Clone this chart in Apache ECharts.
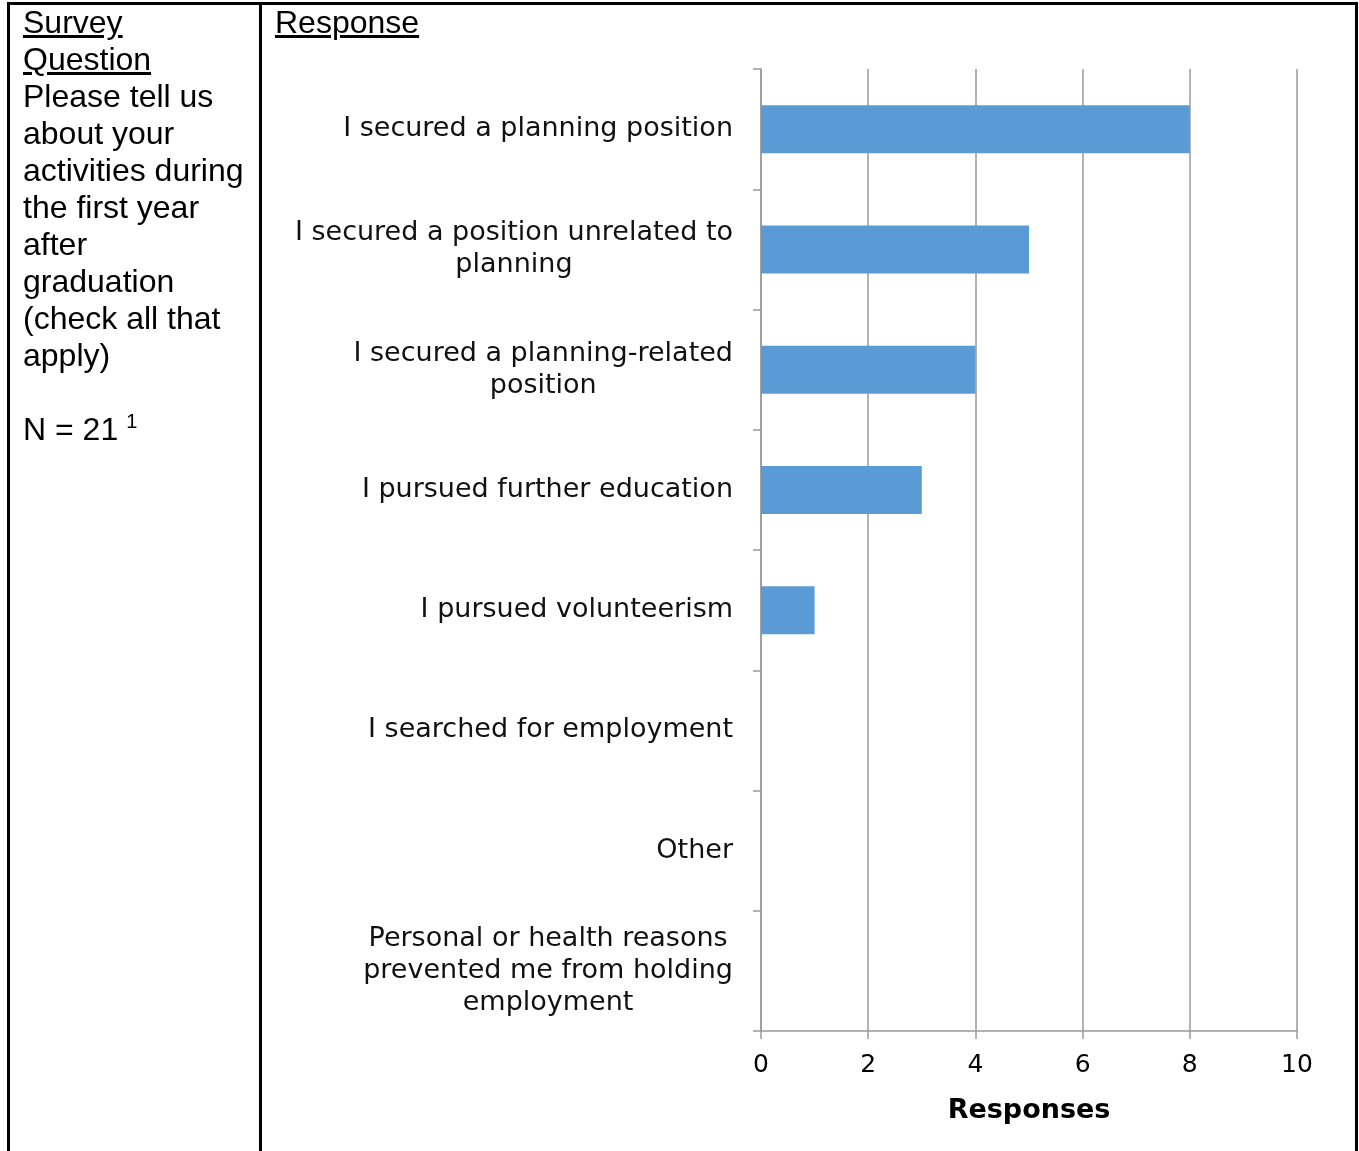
<!DOCTYPE html>
<html>
<head>
<meta charset="utf-8">
<script src="https://cdn.jsdelivr.net/npm/echarts@6/dist/echarts.min.js"></script>
<style>
  html, body { margin: 0; padding: 0; background: #fff; width: 1359px; height: 1151px; overflow: hidden; }
  #chart { position: absolute; left: 0; top: 0; width: 1359px; height: 1151px; }
  .line { position: absolute; background: #000; }
  .txt { position: absolute; font-family: "Liberation Sans", Arial, sans-serif; font-size: 32px; line-height: 37px; color: #000; white-space: nowrap; }
  .u { text-decoration: underline; }
  sup { font-size: 20px; vertical-align: 12px; line-height: 0; margin-left: 8px; }
</style>
</head>
<body>
<div id="chart"></div>
<div class="line" style="left:7px; top:2px; width:1351px; height:3px;"></div>
<div class="line" style="left:7px; top:2px; width:3px; height:1149px;"></div>
<div class="line" style="left:259px; top:2px; width:3px; height:1149px;"></div>
<div class="line" style="left:1355px; top:2px; width:3px; height:1149px;"></div>
<div class="txt" style="left:23px; top:4px;">
<span class="u">Survey</span><br><span class="u">Question</span><br>Please tell us<br>about your<br>activities during<br>the first year<br>after<br>graduation<br>(check all that<br>apply)<br><br>N = 21<sup>1</sup>
</div>
<div class="txt" style="left:275px; top:4px;"><span class="u">Response</span></div>
<script>
const categories = [
  "I secured a planning position",
  "I secured a position unrelated to\nplanning",
  "I secured a planning-related\nposition",
  "I pursued further education",
  "I pursued volunteerism",
  "I searched for employment",
  "Other",
  "Personal or health reasons\nprevented me from holding\nemployment"
];
const responses = [8, 5, 4, 3, 1, 0, 0, 0];
const xTicks = { min: 0, max: 10, interval: 2 };
const xAxisName = "Responses";

const chart = echarts.init(document.getElementById('chart'), null, { renderer: 'canvas' });
const labelFont = '"DejaVu Sans", sans-serif';
const gray = '#9a9a9a';
chart.setOption({
  animation: false,
  backgroundColor: 'transparent',
  grid: { left: 761, right: 62, top: 69, bottom: 120, containLabel: false },
  xAxis: {
    type: 'value',
    min: xTicks.min, max: xTicks.max, interval: xTicks.interval,
    name: xAxisName,
    nameLocation: 'middle',
    nameGap: 66,
    nameTextStyle: { fontFamily: labelFont, fontSize: 27, fontWeight: 'bold', color: '#000' },
    axisLine: { show: true, lineStyle: { color: gray, width: 1.5 } },
    axisTick: { show: true, length: 8, lineStyle: { color: gray, width: 1.5 } },
    axisLabel: { margin: 22, fontFamily: labelFont, fontSize: 25, color: '#000' },
    splitLine: { show: true, lineStyle: { color: gray, width: 1.5 } }
  },
  yAxis: {
    type: 'category',
    inverse: true,
    data: categories,
    axisLine: { show: true, lineStyle: { color: gray, width: 1.5 } },
    axisTick: { show: true, length: 8, lineStyle: { color: gray, width: 1.5 } },
    axisLabel: {
      margin: 28,
      color: '#111',
      formatter: function (v) {
        return v.split('\n').map(function (l) { return '{c|' + l + '}'; }).join('\n');
      },
      rich: {
        c: { align: 'center', fontFamily: labelFont, fontSize: 27, lineHeight: 32, color: '#111' }
      }
    },
    splitLine: { show: false }
  },
  series: [{
    type: 'bar',
    data: responses,
    barWidth: 48,
    itemStyle: { color: '#5B9BD5' }
  }]
});
</script>
</body>
</html>
